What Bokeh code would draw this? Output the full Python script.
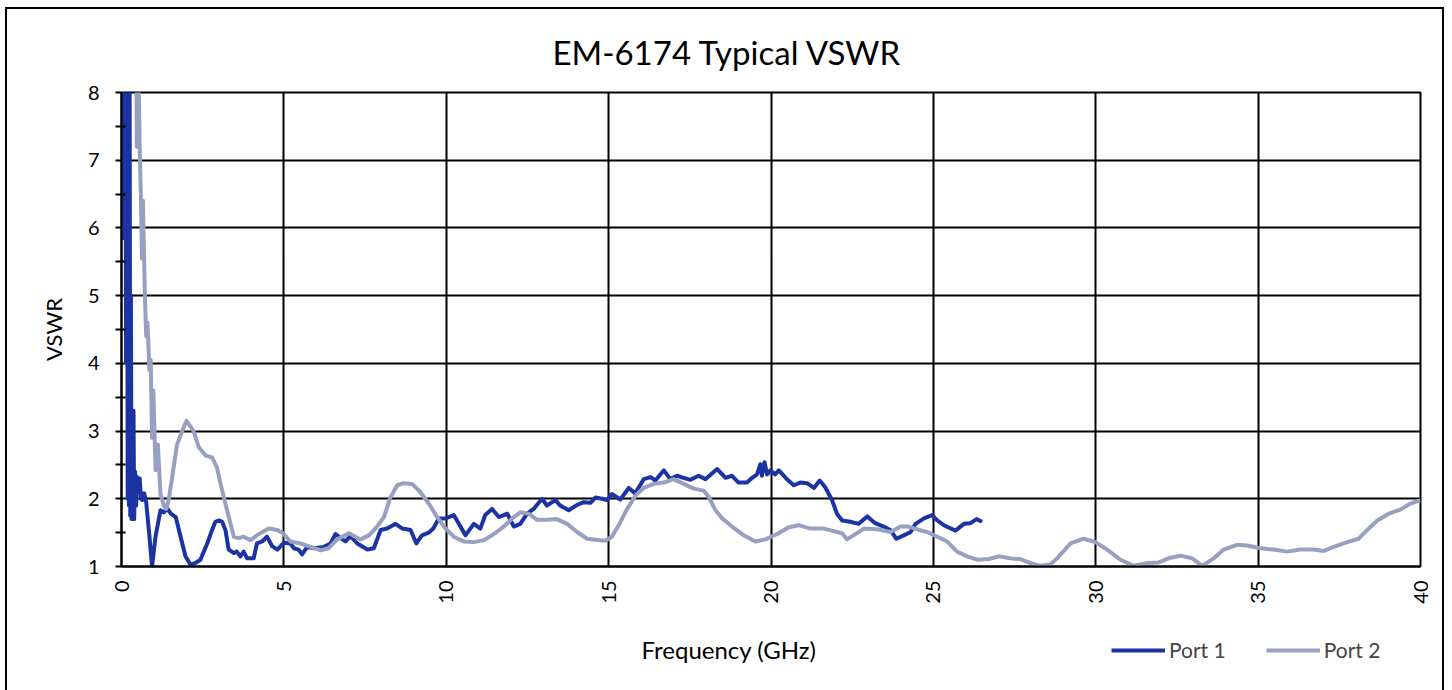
from bokeh.plotting import figure
from bokeh.layouts import column
from bokeh.models import (Range1d, FixedTicker, Title, Legend, LegendItem)
from bokeh.embed import file_html
from bokeh.resources import INLINE

# ---------------- data ----------------
title_text = "EM-6174 Typical VSWR"
x_label = "Frequency (GHz)"
y_label = "VSWR"
series_names = ["Port 1", "Port 2"]
x_ticks = [0, 5, 10, 15, 20, 25, 30, 35, 40]
y_ticks = [1, 2, 3, 4, 5, 6, 7, 8]
y_minor_ticks = [1.5, 2.5, 3.5, 4.5, 5.5, 6.5, 7.5]

port1_freq = [0.02, 0.04, 0.06, 0.09, 0.11, 0.14, 0.16, 0.19, 0.21, 0.23, 0.25, 0.27, 0.29, 0.31,
              0.33, 0.35, 0.37, 0.39, 0.42, 0.45, 0.48, 0.52, 0.56, 0.60, 0.64, 0.70, 0.76, 0.85,
              0.94, 1.05, 1.2, 1.3, 1.42, 1.52, 1.67, 1.82, 1.97, 2.12, 2.27, 2.43, 2.64, 2.79,
              2.89, 3.0, 3.1, 3.2, 3.3, 3.46, 3.55, 3.66, 3.76, 3.87, 4.07, 4.17, 4.33, 4.48,
              4.64, 4.8, 5.0, 5.2, 5.31, 5.45, 5.56, 5.72, 5.92, 6.23, 6.44, 6.59, 6.74, 6.9,
              7.05, 7.26, 7.57, 7.77, 7.98, 8.18, 8.44, 8.65, 8.9, 9.08, 9.25, 9.46, 9.6, 9.77,
              9.98, 10.23, 10.39, 10.59, 10.85, 11.05, 11.2, 11.41, 11.62, 11.88, 12.08, 12.28,
              12.49, 12.69, 12.95, 13.1, 13.36, 13.51, 13.77, 14.03, 14.23, 14.44, 14.6, 14.8,
              14.95, 15.1, 15.36, 15.62, 15.82, 16.08, 16.29, 16.44, 16.7, 16.9, 17.11, 17.3,
              17.52, 17.77, 17.98, 18.34, 18.6, 18.8, 19.0, 19.26, 19.42, 19.57, 19.67, 19.72,
              19.8, 19.88, 19.98, 20.13, 20.24, 20.49, 20.7, 20.9, 21.11, 21.32, 21.5, 21.67,
              21.88, 22.03, 22.19, 22.44, 22.7, 22.96, 23.21, 23.47, 23.67, 23.86, 24.09, 24.3,
              24.45, 24.71, 24.96, 25.12, 25.32, 25.68, 25.94, 26.14, 26.33, 26.5]
port1_vswr = [12, 5.85, 12, 7.0, 12, 4.0, 12, 2.0, 10, 1.9, 8.5, 1.75, 5.0, 1.7,
              3.3, 1.7, 3.3, 1.7, 2.4, 1.9, 2.32, 2.1, 2.3, 2.0, 1.98, 2.08, 1.95, 1.5,
              1.0, 1.45, 1.83, 1.8, 1.85, 1.78, 1.73, 1.44, 1.15, 1.03, 1.05, 1.1, 1.34, 1.54,
              1.66, 1.68, 1.66, 1.54, 1.25, 1.2, 1.22, 1.15, 1.22, 1.12, 1.12, 1.34, 1.37, 1.44,
              1.3, 1.25, 1.35, 1.34, 1.27, 1.25, 1.18, 1.29, 1.27, 1.29, 1.34, 1.48, 1.42, 1.37,
              1.45, 1.34, 1.25, 1.27, 1.54, 1.56, 1.63, 1.56, 1.54, 1.34, 1.46, 1.5, 1.56, 1.71,
              1.71, 1.76, 1.63, 1.46, 1.63, 1.56, 1.76, 1.85, 1.73, 1.78, 1.59, 1.63,
              1.78, 1.85, 2.0, 1.9, 1.98, 1.9, 1.83, 1.91, 1.95, 1.94, 2.02, 2.0,
              1.98, 2.07, 1.99, 2.16, 2.08, 2.29, 2.32, 2.27, 2.42, 2.29, 2.34, 2.31,
              2.28, 2.34, 2.29, 2.44, 2.31, 2.34, 2.24, 2.24, 2.31, 2.36, 2.51, 2.34,
              2.54, 2.36, 2.42, 2.36, 2.42, 2.29, 2.2, 2.24, 2.23, 2.16, 2.27, 2.17,
              1.98, 1.78, 1.68, 1.66, 1.63, 1.74, 1.64, 1.59, 1.54, 1.41, 1.46, 1.51,
              1.63, 1.71, 1.76, 1.68, 1.61, 1.53, 1.63, 1.64, 1.7, 1.66]

port2_freq = [0.42, 0.47, 0.52, 0.56, 0.6, 0.63, 0.66, 0.72, 0.76, 0.8, 0.86, 0.9, 0.94, 0.98,
              1.05, 1.12, 1.2, 1.3, 1.38, 1.45, 1.56, 1.71, 1.87, 2.0, 2.12, 2.22, 2.38, 2.59,
              2.79, 2.94, 3.05, 3.25, 3.46, 3.61, 3.76, 3.97, 4.17, 4.53, 4.8, 4.95, 5.2, 5.51,
              5.82, 6.13, 6.38, 6.64, 7.0, 7.36, 7.62, 7.87, 8.08, 8.28, 8.49, 8.69, 8.95, 9.2,
              9.46, 9.72, 9.98, 10.23, 10.54, 10.85, 11.16, 11.47, 11.77, 12.08, 12.28, 12.54,
              12.8, 13.1, 13.41, 13.72, 14.03, 14.34, 14.65, 14.9, 15.1, 15.31, 15.57, 15.83,
              16.08, 16.39, 16.7, 17.0, 17.31, 17.62, 17.93, 18.08, 18.29, 18.5, 18.8, 19.16,
              19.52, 19.83, 20.19, 20.55, 20.85, 21.21, 21.63, 22.04, 22.19, 22.34, 22.54,
              22.86, 23.27, 23.68, 23.99, 24.24, 24.55, 24.81, 25.12, 25.42, 25.73, 26.04,
              26.35, 26.71, 27.02, 27.37, 27.68, 27.99, 28.3, 28.6, 28.81, 29.22, 29.63, 29.99,
              30.35, 30.76, 31.17, 31.58, 31.94, 32.3, 32.61, 32.97, 33.28, 33.63, 33.94, 34.35,
              34.66, 35.07, 35.48, 35.89, 36.3, 36.71, 37.02, 37.33, 37.74, 38.1, 38.36, 38.67,
              39.02, 39.38, 39.69, 40.0]
port2_vswr = [12, 7.2, 8.5, 7.2, 6.4, 5.55, 6.4, 5.0, 4.4, 4.6, 3.9, 4.05, 2.9, 3.6,
              2.42, 2.8, 2.07, 1.9, 1.85, 1.98, 2.32, 2.8, 3.0, 3.15, 3.07, 3.0, 2.76, 2.64,
              2.61, 2.46, 2.22, 1.83, 1.44, 1.42, 1.44, 1.39, 1.46, 1.56, 1.54, 1.5, 1.37, 1.34,
              1.29, 1.24, 1.27, 1.4, 1.49, 1.4, 1.46, 1.59, 1.73, 2.02, 2.2, 2.23, 2.22, 2.1,
              1.93, 1.73, 1.56, 1.44, 1.37, 1.36, 1.39, 1.48, 1.59, 1.73, 1.8, 1.78,
              1.69, 1.69, 1.7, 1.63, 1.51, 1.41, 1.39, 1.38, 1.44, 1.61, 1.85, 2.05,
              2.16, 2.22, 2.24, 2.29, 2.22, 2.15, 2.12, 2.03, 1.83, 1.71, 1.59, 1.46,
              1.37, 1.4, 1.48, 1.58, 1.61, 1.56, 1.56, 1.51, 1.49, 1.4, 1.46,
              1.56, 1.55, 1.51, 1.59, 1.59, 1.54, 1.51, 1.44, 1.37, 1.22, 1.15,
              1.1, 1.11, 1.15, 1.12, 1.11, 1.05, 1.01, 1.03, 1.12, 1.34, 1.41, 1.36,
              1.25, 1.1, 1.01, 1.05, 1.06, 1.13, 1.16, 1.12, 1.01, 1.12, 1.25, 1.32,
              1.31, 1.27, 1.25, 1.22, 1.25, 1.25, 1.23, 1.29, 1.36, 1.41, 1.54, 1.68,
              1.78, 1.84, 1.93, 1.98]

# ---------------- styling ----------------
FONT = "Lato"
C1 = "#1c33a3"
C2 = "#97a0c1"

p = figure(width=1446, height=690, output_backend="svg", toolbar_location=None,
           x_range=Range1d(0, 40), y_range=Range1d(1, 8),
           min_border_left=121, min_border_right=26, min_border_top=92, min_border_bottom=120)
p.border_fill_alpha = 0
p.styles = {"box-shadow": ("inset 5px 7px 0 0 white, inset -2px 0 0 0 white, "
                           "inset 7px 9px 0 0 black, inset -4px 0 0 0 black")}
p.outline_line_color = "black"
p.outline_line_width = 2

r1 = p.line(port1_freq, port1_vswr, line_color=C1, line_width=4, line_join="round")
r2 = p.line(port2_freq, port2_vswr, line_color=C2, line_width=4, line_join="round")

# title
p.title.text = title_text
p.title.text_font = FONT
p.title.text_font_size = "33px"
p.title.text_font_style = "normal"
p.title.text_color = "black"
p.title.align = "left"
p.title.offset = 431
p.title.standoff = 41

# axes
p.xaxis.ticker = FixedTicker(ticks=x_ticks)
p.yaxis.ticker = FixedTicker(ticks=y_ticks, minor_ticks=y_minor_ticks)
for ax in (p.xaxis[0], p.yaxis[0]):
    ax.axis_line_color = "black"
    ax.axis_line_width = 2
    ax.major_label_text_font = FONT
    ax.major_label_text_font_size = "20px"
    ax.major_label_text_color = "black"
    ax.axis_label_text_font = FONT
    ax.axis_label_text_font_style = "normal"
    ax.axis_label_text_font_size = "22px"
    ax.axis_label_text_color = "black"

p.xaxis.major_tick_out = 0
p.xaxis.major_tick_in = 0
p.xaxis.minor_tick_out = 0
p.xaxis.minor_tick_in = 0
p.xaxis.major_label_orientation = 3.14159265 / 2
p.xaxis.major_label_standoff = 14

p.yaxis.major_tick_out = 6
p.yaxis.major_tick_in = 0
p.yaxis.minor_tick_out = 6
p.yaxis.minor_tick_in = 4
p.yaxis.major_tick_line_color = "black"
p.yaxis.minor_tick_line_color = "black"
p.yaxis.major_tick_line_width = 2
p.yaxis.minor_tick_line_width = 2
p.yaxis.major_label_standoff = 16
p.yaxis.axis_label = y_label
p.yaxis.axis_label_standoff = 18

p.xgrid.grid_line_color = "black"
p.xgrid.grid_line_width = 2
p.ygrid.grid_line_color = "black"
p.ygrid.grid_line_width = 2

xlab = Title(text=x_label, text_font=FONT, text_font_size="24px", text_font_style="normal",
             text_color="black", align="left", offset=520, standoff=53)
p.add_layout(xlab, "below")

# transparent legend strip overlapping the bottom of the chart
lg = figure(width=1446, height=26, output_backend="svg", toolbar_location=None,
            x_axis_type=None, y_axis_type=None,
            x_range=Range1d(0, 40), y_range=Range1d(-3, -2),
            min_border_left=0, min_border_right=0, min_border_top=0, min_border_bottom=0)
lg.outline_line_color = None
lg.background_fill_alpha = 0
lg.border_fill_alpha = 0
lg.margin = (-54, 0, 0, 0)
# same series drawn out of this strip's view; used only for the legend keys
k1 = lg.line(port1_freq, port1_vswr, line_color=C1, line_width=4)
k2 = lg.line(port2_freq, port2_vswr, line_color=C2, line_width=4)
legend = Legend(items=[LegendItem(label=series_names[0], renderers=[k1]),
                       LegendItem(label=series_names[1], renderers=[k2])],
                orientation="horizontal", location=(990, 0),
                border_line_color=None, background_fill_alpha=0,
                label_text_font=FONT, label_text_font_size="21px",
                glyph_width=54, glyph_height=20, label_standoff=4, spacing=40,
                padding=0, margin=0)
lg.add_layout(legend)

layout = column(p, lg, spacing=0)
open("out.html", "w").write(file_html(layout, INLINE))
